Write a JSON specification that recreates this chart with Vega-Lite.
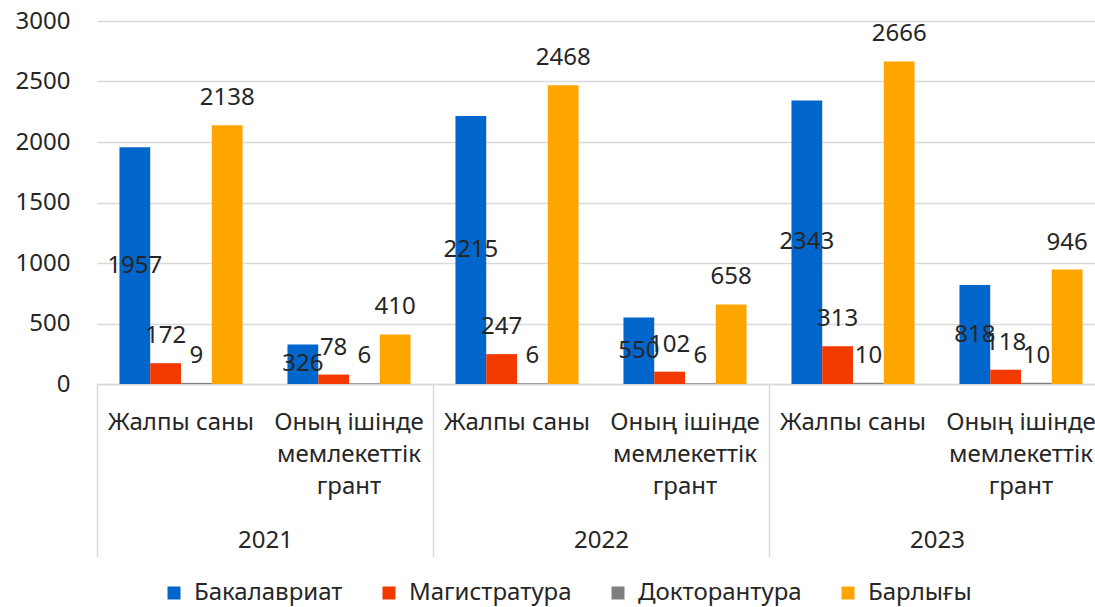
{
  "$schema": "https://vega.github.io/schema/vega-lite/v6.json",
  "autosize": {"type": "none"},
  "padding": {"left": 97, "top": 21, "right": 0, "bottom": 223},
  "width": 998,
  "height": 363,
  "background": "white",
  "data": {"values": [
    {"year": "2021", "group": "2021|Жалпы саны", "series": "Бакалавриат", "value": 1957},
    {"year": "2021", "group": "2021|Жалпы саны", "series": "Магистратура", "value": 172},
    {"year": "2021", "group": "2021|Жалпы саны", "series": "Докторантура", "value": 9},
    {"year": "2021", "group": "2021|Жалпы саны", "series": "Барлығы", "value": 2138},
    {"year": "2021", "group": "2021|Оның ішінде мемлекеттік грант", "series": "Бакалавриат", "value": 326},
    {"year": "2021", "group": "2021|Оның ішінде мемлекеттік грант", "series": "Магистратура", "value": 78},
    {"year": "2021", "group": "2021|Оның ішінде мемлекеттік грант", "series": "Докторантура", "value": 6},
    {"year": "2021", "group": "2021|Оның ішінде мемлекеттік грант", "series": "Барлығы", "value": 410},
    {"year": "2022", "group": "2022|Жалпы саны", "series": "Бакалавриат", "value": 2215},
    {"year": "2022", "group": "2022|Жалпы саны", "series": "Магистратура", "value": 247},
    {"year": "2022", "group": "2022|Жалпы саны", "series": "Докторантура", "value": 6},
    {"year": "2022", "group": "2022|Жалпы саны", "series": "Барлығы", "value": 2468},
    {"year": "2022", "group": "2022|Оның ішінде мемлекеттік грант", "series": "Бакалавриат", "value": 550},
    {"year": "2022", "group": "2022|Оның ішінде мемлекеттік грант", "series": "Магистратура", "value": 102},
    {"year": "2022", "group": "2022|Оның ішінде мемлекеттік грант", "series": "Докторантура", "value": 6},
    {"year": "2022", "group": "2022|Оның ішінде мемлекеттік грант", "series": "Барлығы", "value": 658},
    {"year": "2023", "group": "2023|Жалпы саны", "series": "Бакалавриат", "value": 2343},
    {"year": "2023", "group": "2023|Жалпы саны", "series": "Магистратура", "value": 313},
    {"year": "2023", "group": "2023|Жалпы саны", "series": "Докторантура", "value": 10},
    {"year": "2023", "group": "2023|Жалпы саны", "series": "Барлығы", "value": 2666},
    {"year": "2023", "group": "2023|Оның ішінде мемлекеттік грант", "series": "Бакалавриат", "value": 818},
    {"year": "2023", "group": "2023|Оның ішінде мемлекеттік грант", "series": "Магистратура", "value": 118},
    {"year": "2023", "group": "2023|Оның ішінде мемлекеттік грант", "series": "Докторантура", "value": 10},
    {"year": "2023", "group": "2023|Оның ішінде мемлекеттік грант", "series": "Барлығы", "value": 946}
  ]},
  "layer": [
    {
      "mark": {"type": "bar"},
      "encoding": {
        "x": {
          "field": "group", "type": "nominal",
          "scale": {"type": "band", "range": [0, 1008], "paddingInner": 0, "paddingOuter": 0},
          "axis": {
            "orient": "bottom", "title": null, "labelAngle": 0, "labelFontSize": 24, "labelColor": "#262626", "labelFont": "Noto Sans",
            "labelExpr": "indexof(datum.value, 'Жалпы') >= 0 ? 'Жалпы саны' : ['Оның ішінде', 'мемлекеттік', 'грант']",
            "labelLineHeight": 32, "labelPadding": 26, "labelLimit": 0, "labelBaseline": "top",
            "domainColor": "#d9d9d9", "domainWidth": 1.5, "ticks": false, "grid": false
          }
        },
        "xOffset": {
          "field": "series", "type": "nominal",
          "scale": {"type": "band", "domain": ["Бакалавриат", "Магистратура", "Докторантура", "Барлығы"], "paddingInner": 0, "paddingOuter": 0.73}
        },
        "y": {
          "field": "value", "type": "quantitative",
          "scale": {"domain": [0, 3000], "nice": false},
          "axis": {
            "title": null, "values": [0, 500, 1000, 1500, 2000, 2500, 3000], "format": "d",
            "labelFontSize": 24, "labelColor": "#262626", "labelFont": "Noto Sans", "labelPadding": 27,
            "ticks": false, "domain": false, "gridColor": "#d9d9d9", "gridWidth": 1.5
          }
        },
        "color": {
          "field": "series", "type": "nominal",
          "scale": {"domain": ["Бакалавриат", "Магистратура", "Докторантура", "Барлығы"], "range": ["#0066cc", "#f23a00", "#7f7f7f", "#ffa500"]},
          "legend": {
            "title": null, "orient": "none", "legendX": 65, "legendY": 560, "direction": "horizontal",
            "symbolType": "square", "symbolSize": 169, "symbolStrokeWidth": 0,
            "labelFontSize": 24, "labelFont": "Noto Sans", "labelColor": "#262626", "labelLimit": 0,
            "columnPadding": 34, "labelOffset": 8
          }
        }
      }
    },
    {
      "transform": [{"filter": "datum.series != 'Бакалавриат'"}],
      "mark": {"type": "text", "baseline": "alphabetic", "dy": -20, "fontSize": 24, "font": "Noto Sans", "color": "#262626"},
      "encoding": {
        "x": {"field": "group", "type": "nominal", "scale": {"type": "band", "range": [0, 1008], "paddingInner": 0, "paddingOuter": 0}, "axis": null},
        "xOffset": {"field": "series", "type": "nominal", "scale": {"type": "band", "domain": ["Бакалавриат", "Магистратура", "Докторантура", "Барлығы"], "paddingInner": 0, "paddingOuter": 0.73}},
        "y": {"field": "value", "type": "quantitative", "scale": {"domain": [0, 3000], "nice": false}, "axis": null},
        "text": {"field": "value", "type": "quantitative"}
      }
    },
    {
      "transform": [{"filter": "datum.series == 'Бакалавриат'"}],
      "mark": {"type": "text", "baseline": "middle", "fontSize": 24, "font": "Noto Sans", "color": "#262626"},
      "encoding": {
        "x": {"field": "group", "type": "nominal", "scale": {"type": "band", "range": [0, 1008], "paddingInner": 0, "paddingOuter": 0}, "axis": null},
        "xOffset": {"field": "series", "type": "nominal", "scale": {"type": "band", "domain": ["Бакалавриат", "Магистратура", "Докторантура", "Барлығы"], "paddingInner": 0, "paddingOuter": 0.73}},
        "y": {"field": "value", "type": "quantitative", "scale": {"domain": [0, 6000], "nice": false}, "axis": null},
        "text": {"field": "value", "type": "quantitative"}
      }
    },
    {
      "mark": {"type": "rule", "opacity": 0},
      "encoding": {
        "x": {
          "field": "year", "type": "ordinal",
          "scale": {"type": "band", "range": [0, 1008], "paddingInner": 0, "paddingOuter": 0},
          "axis": {
            "orient": "bottom", "title": null, "labelAngle": 0, "labelFontSize": 24, "labelColor": "#262626", "labelFont": "Noto Sans",
            "labelBaseline": "middle", "labelPadding": -17, "domain": false,
            "tickBand": "extent", "tickSize": 173, "tickWidth": 1.5, "tickColor": "#d9d9d9", "grid": false
          }
        }
      }
    }
  ],
  "resolve": {"scale": {"x": "independent", "y": "independent", "xOffset": "independent"}},
  "config": {
    "view": {"stroke": null},
    "font": "Noto Sans"
  }
}
